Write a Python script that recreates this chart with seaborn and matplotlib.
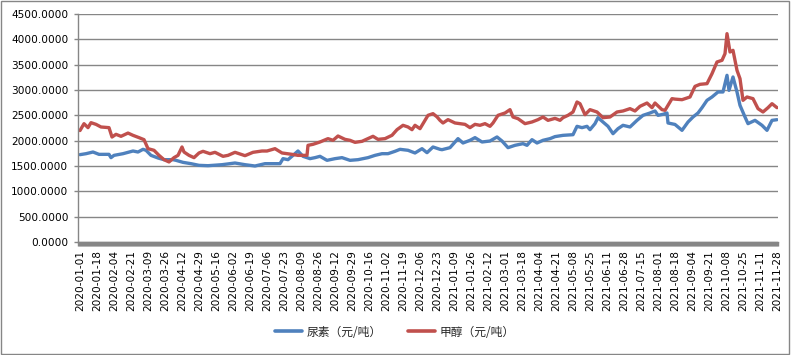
import matplotlib
matplotlib.use("Agg")
import matplotlib.pyplot as plt
import matplotlib.dates as mdates
from matplotlib.lines import Line2D
from matplotlib.patches import Rectangle
import numpy as np
import pandas as pd
import seaborn as sns

# days counted from 2020-01-01, prices (元/吨)
start = pd.Timestamp("2020-01-01")

urea_days = [0, 6, 13, 19, 29, 31, 34, 43, 53, 58, 63, 66, 71, 78, 84, 93, 96,
             103, 111, 119, 128, 142, 155, 165, 175, 185, 200, 203, 208, 213,
             218, 223, 230, 235, 240, 247, 255, 262, 270, 278, 288, 295, 302,
             308, 315, 320, 328, 335, 342, 347, 353, 360, 362, 370, 378, 383,
             390, 395, 402, 410, 417, 422, 428, 435, 443, 447, 452, 457, 463,
             470, 475, 483, 493, 497, 502, 507, 510, 515, 518, 523, 528, 533,
             538, 543, 550, 557, 563, 570, 575, 578, 583, 587, 588, 595, 602,
             608, 613, 618, 622, 627, 632, 638, 643, 647, 649, 653, 657, 660,
             665, 668, 675, 682, 687, 692, 697]
urea_price = [1724, 1743, 1776, 1730, 1730, 1665, 1710, 1743, 1796, 1776, 1829,
              1810, 1710, 1658, 1625, 1625, 1612, 1572, 1546, 1513, 1506, 1526,
              1559, 1526, 1500, 1546, 1546, 1645, 1625, 1710, 1796, 1691, 1645,
              1665, 1691, 1612, 1645, 1665, 1612, 1625, 1665, 1710, 1743, 1743,
              1790, 1829, 1810, 1757, 1842, 1763, 1875, 1829, 1822, 1862, 2040,
              1954, 2007, 2060, 1974, 1993, 2073, 1993, 1862, 1908, 1941, 1908,
              2020, 1954, 2007, 2040, 2080, 2105, 2118, 2283, 2257, 2283, 2217,
              2336, 2454, 2368, 2283, 2138, 2237, 2303, 2270, 2401, 2500, 2546,
              2586, 2500, 2520, 2546, 2349, 2320, 2204, 2368, 2467, 2546, 2651,
              2796, 2862, 2961, 2961, 3290, 2993, 3257, 2961, 2697, 2467, 2336,
              2401, 2303, 2204, 2401, 2414]

methanol_days = [0, 4, 8, 11, 16, 21, 29, 32, 36, 41, 48, 53, 59, 64, 68, 74,
                 79, 84, 89, 94, 98, 102, 104, 109, 114, 119, 123, 130, 135,
                 143, 148, 155, 165, 173, 182, 187, 195, 202, 212, 218, 227,
                 228, 233, 240, 248, 253, 258, 265, 270, 275, 282, 288, 293,
                 298, 305, 312, 317, 323, 328, 332, 335, 340, 343, 348, 353,
                 357, 360, 363, 368, 375, 385, 390, 395, 400, 405, 410, 413,
                 418, 425, 430, 433, 438, 445, 452, 458, 463, 468, 475, 480,
                 483, 488, 493, 497, 500, 505, 510, 517, 523, 530, 537, 543,
                 550, 555, 560, 567, 572, 575, 582, 585, 592, 595, 602, 610,
                 615, 620, 627, 632, 637, 642, 645, 647, 650, 653, 657, 660,
                 663, 667, 673, 678, 683, 688, 692, 697]
methanol_price = [2200, 2335, 2257, 2355, 2322, 2270, 2257, 2072, 2125, 2086,
                  2150, 2105, 2060, 2020, 1842, 1810, 1710, 1625, 1580, 1665,
                  1710, 1875, 1776, 1710, 1665, 1757, 1790, 1743, 1770, 1691,
                  1710, 1770, 1704, 1770, 1796, 1796, 1842, 1757, 1730, 1710,
                  1710, 1908, 1928, 1974, 2040, 2007, 2092, 2026, 2007, 1967,
                  1987, 2040, 2086, 2026, 2040, 2106, 2217, 2303, 2270, 2217,
                  2303, 2237, 2336, 2500, 2533, 2470, 2401, 2349, 2415, 2349,
                  2322, 2257, 2322, 2303, 2336, 2283, 2349, 2500, 2546, 2612,
                  2467, 2434, 2336, 2369, 2415, 2467, 2401, 2440, 2401, 2454,
                  2500, 2566, 2763, 2730, 2513, 2612, 2566, 2454, 2467, 2566,
                  2586, 2632, 2586, 2678, 2743, 2651, 2743, 2612, 2599, 2829,
                  2820, 2809, 2862, 3072, 3112, 3125, 3322, 3553, 3586, 3717,
                  4112, 3750, 3783, 3388, 3224, 2796, 2862, 2829, 2632, 2566,
                  2651, 2730, 2651]

series_names = ["尿素（元/吨）", "甲醇（元/吨）"]
colors = ["#4F81BD", "#C0504D"]
tick_dates = pd.date_range("2020-01-01", "2021-11-28", freq="17D")
y_ticks = np.arange(0, 4501, 500)


def build_frame():
    parts = []
    for name, days, price in [(series_names[0], urea_days, urea_price),
                              (series_names[1], methanol_days, methanol_price)]:
        parts.append(pd.DataFrame({
            "date": start + pd.to_timedelta(days, unit="D"),
            "price": price,
            "series": name,
        }))
    return pd.concat(parts, ignore_index=True)


def plot(df):
    sns.set_theme(style="white")
    plt.rcParams["font.family"] = ["DejaVu Sans", "Noto Sans CJK SC"]

    fig = plt.figure(figsize=(7.91, 3.55), dpi=100)
    ax = fig.add_axes([78 / 791, 113 / 355, 700 / 791, 228 / 355])

    sns.lineplot(data=df, x="date", y="price", hue="series",
                 palette=dict(zip(series_names, colors)), linewidth=2.4,
                 estimator=None, legend=False, ax=ax)

    ax.set_ylim(0, 4500)
    ax.set_yticks(y_ticks)
    ax.set_yticklabels([f"{v:.4f}" for v in y_ticks])
    ax.yaxis.grid(True, color="#868686", linewidth=1)
    ax.set_axisbelow(True)

    ax.set_xlim(start - pd.Timedelta(days=2), start + pd.Timedelta(days=698))
    ax.set_xticks(tick_dates)
    ax.set_xticklabels([d.strftime("%Y-%m-%d") for d in tick_dates])
    ax.xaxis.set_minor_locator(mdates.DayLocator())

    for side in ["top", "right"]:
        ax.spines[side].set_visible(False)
    for side in ["left", "bottom"]:
        ax.spines[side].set_color("#868686")
        ax.spines[side].set_linewidth(1)

    ax.tick_params(axis="y", left=True, length=3, width=1, color="#868686",
                   labelsize=7.6, pad=4, labelcolor="black")
    ax.tick_params(axis="x", which="both", bottom=True, length=3, width=1,
                   color="#868686", labelsize=7.6, labelrotation=90, pad=3,
                   labelcolor="black")
    ax.set_xlabel("")
    ax.set_ylabel("")

    handles = [Line2D([], [], color=c, linewidth=2.6) for c in colors]
    fig.legend(handles, series_names, loc="center",
               bbox_to_anchor=(395 / 791, 23 / 355), ncol=2, frameon=False,
               prop={"family": ["Noto Sans CJK SC"], "size": 8.5},
               handlelength=2.3, columnspacing=2.2, handletextpad=0.4)

    fig.patches.append(Rectangle((0.001, 0.004), 0.997, 0.994, fill=False,
                                 edgecolor="#868686", linewidth=1,
                                 transform=fig.transFigure))

    fig.savefig("out.png", dpi=100)


if __name__ == "__main__":
    plot(build_frame())
